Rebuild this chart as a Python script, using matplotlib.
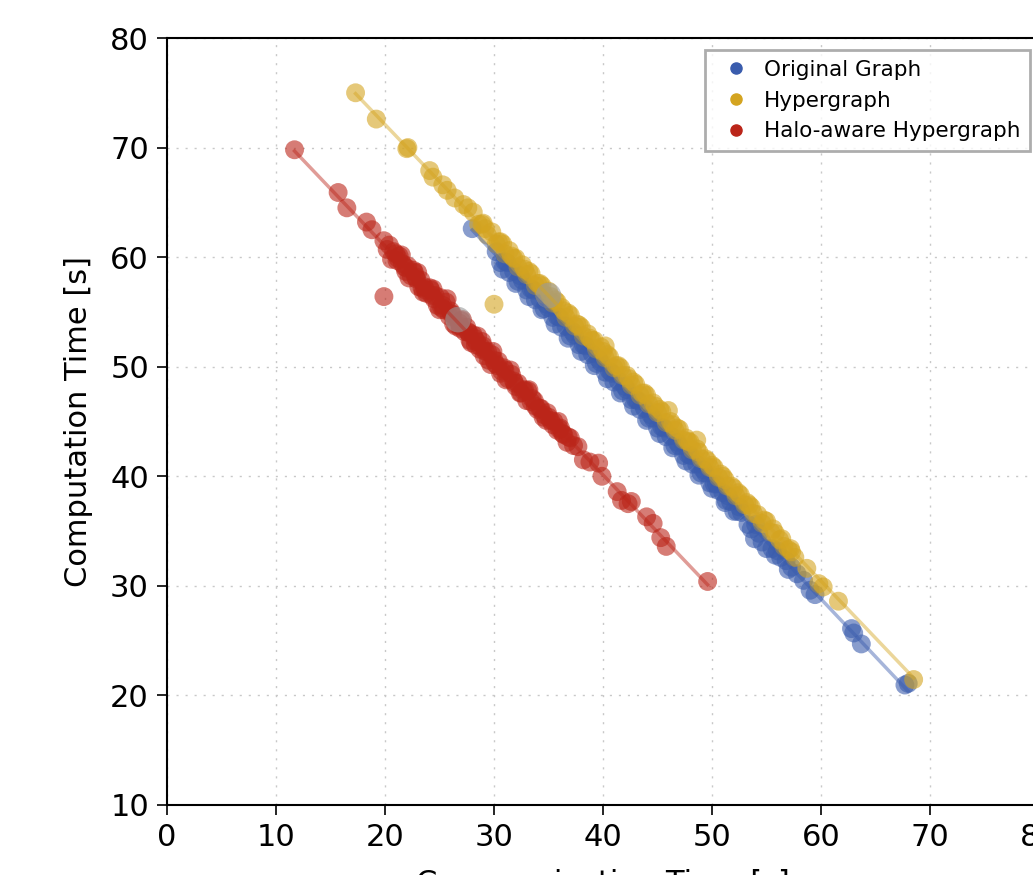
import numpy as np
import matplotlib
matplotlib.use("Agg")
import matplotlib.pyplot as plt
from matplotlib.lines import Line2D

labels = ["Original Graph", "Hypergraph", "Halo-aware Hypergraph"]
colors = ["#3a5cad", "#d4a420", "#bb2519"]

# Original Graph
orig_x = [28.0, 30.2, 30.6, 31.0, 31.4, 31.8, 32.2, 32.6, 33.0, 33.4, 33.8, 34.2, 34.6,
          35.0, 35.4, 35.8, 36.2, 36.6, 37.0, 37.4, 37.8, 38.2, 38.6, 39.0, 39.4, 39.8,
          40.2, 40.6, 41.0, 41.4, 41.8, 42.2, 42.6, 43.0, 43.4, 43.8, 44.2, 44.6, 45.0,
          45.4, 45.8, 46.2, 46.6, 47.0, 47.4, 47.8, 48.2, 48.6, 49.0, 49.4, 49.8, 50.2,
          50.6, 51.0, 51.3, 51.7, 52.3, 52.7, 53.3, 53.6, 53.9, 54.3, 55.0, 55.5, 55.8,
          56.3, 56.8, 57.3, 57.8, 58.4, 59.0, 59.45, 62.8, 63.0, 63.7, 67.7, 68.0,
          31.2, 32.4, 33.6, 34.8, 36.0, 37.2, 38.4, 39.6, 40.8, 42.0, 43.2, 44.4, 45.6,
          46.8, 48.0, 49.2, 50.4, 51.5, 52.5, 54.0, 56.0,
          30.8, 32.0, 33.2, 34.4, 35.6, 36.8, 38.0, 39.2, 40.4, 41.6, 42.8, 44.0, 45.2,
          46.4, 47.6, 48.8, 50.0, 51.2, 52.0, 54.6, 57.0]
orig_y = [62.6, 60.5, 59.5, 59.6, 58.6, 58.7, 57.8, 57.9, 57.0, 57.1, 56.1, 56.2, 55.3,
          55.4, 54.5, 54.6, 53.6, 53.7, 52.8, 52.9, 52.0, 52.0, 51.1, 51.2, 50.3, 50.4,
          49.5, 49.6, 48.6, 48.7, 47.8, 47.9, 47.0, 47.0, 46.1, 46.2, 45.3, 45.3, 44.4,
          44.5, 43.6, 43.7, 42.8, 42.8, 41.9, 42.0, 41.1, 41.1, 40.3, 40.3, 39.4, 39.3,
          38.7, 38.5, 37.8, 37.7, 36.8, 36.7, 35.6, 35.2, 34.3, 34.8, 33.4, 33.4, 32.8,
          32.6, 32.3, 31.7, 31.1, 30.5, 29.6, 29.2, 26.1, 25.7, 24.7, 20.95, 21.1,
          59.5, 58.3, 57.0, 55.7, 54.5, 53.2, 51.9, 50.7, 49.4, 48.2, 46.9, 45.6, 44.4,
          43.1, 41.9, 40.6, 39.3, 38.2, 37.2, 35.6, 33.2,
          58.9, 57.6, 56.4, 55.2, 53.9, 52.6, 51.4, 50.1, 48.9, 47.6, 46.4, 45.1, 43.9,
          42.6, 41.4, 40.1, 38.9, 37.6, 36.8, 34.0, 31.5]

# Hypergraph
hyper_x = [17.3, 19.2, 22.0, 22.1, 24.1, 24.4, 25.3, 25.7, 26.4, 27.2, 27.6, 28.1, 30.0,
           28.6, 29.0, 29.4, 29.8, 30.2, 30.6, 31.0, 31.4, 31.8, 32.2, 32.6, 33.0, 33.4,
           33.8, 34.2, 34.6, 35.0, 35.4, 35.8, 36.2, 36.6, 37.0, 37.4, 37.8, 38.2, 38.6,
           39.0, 39.4, 39.8, 40.2, 40.6, 41.0, 41.4, 41.8, 42.2, 42.6, 43.0, 43.4, 43.8,
           44.2, 44.6, 45.0, 45.4, 45.8, 46.2, 46.6, 47.0, 47.4, 47.8, 48.2, 48.6, 49.0,
           49.4, 49.8, 50.2, 50.6, 51.0, 51.4, 51.8, 52.2, 52.6, 53.0, 53.4, 53.8, 54.2,
           54.6, 55.0, 55.4, 55.8, 56.2, 56.6, 57.0, 57.3, 57.6, 46.0, 48.6, 40.2,
           58.7, 59.8, 60.2, 61.6, 68.5,
           29.2, 30.4, 31.6, 32.8, 34.0, 35.2, 36.4, 37.6, 38.8, 40.0, 41.2, 42.4, 43.6,
           44.8, 46.4, 47.6, 48.8, 50.0, 51.2, 52.4, 53.6, 54.8, 56.4,
           28.9, 30.8, 32.0, 33.2, 34.4, 35.6, 36.8, 38.0, 39.2, 40.4, 41.6, 42.8, 44.0,
           45.2, 46.8, 48.0, 49.6, 50.8, 52.0, 53.2, 55.6, 57.2]
hyper_y = [75.0, 72.6, 69.9, 70.0, 67.9, 67.3, 66.6, 66.1, 65.4, 64.8, 64.5, 64.1, 55.7,
           63.0, 63.1, 62.0, 62.3, 61.2, 61.4, 60.3, 60.6, 59.9, 59.1, 59.3, 58.4, 58.5,
           57.4, 57.6, 56.6, 56.9, 55.8, 55.9, 55.4, 54.5, 54.7, 53.7, 53.8, 52.8, 53.0,
           52.4, 51.6, 51.8, 50.8, 50.9, 49.9, 50.1, 49.2, 49.2, 48.3, 48.4, 47.4, 47.6,
           46.6, 46.7, 45.8, 45.9, 44.9, 45.0, 44.2, 44.3, 43.3, 43.2, 42.4, 42.5, 41.6,
           41.6, 40.8, 40.8, 39.9, 40.0, 39.1, 39.1, 38.2, 38.3, 37.4, 37.4, 36.6, 36.5,
           35.7, 35.9, 34.9, 34.8, 34.2, 33.6, 33.3, 33.1, 32.6, 46.0, 43.3, 51.9,
           31.6, 30.2, 29.9, 28.6, 21.45,
           62.6, 61.4, 60.1, 58.9, 57.6, 56.4, 55.1, 53.9, 52.6, 51.4, 50.1, 48.9, 47.6,
           46.4, 44.7, 43.5, 42.2, 41.0, 39.7, 38.5, 37.2, 36.0, 34.3,
           63.0, 61.2, 59.9, 58.7, 57.4, 56.1, 54.9, 53.6, 52.4, 51.1, 49.9, 48.6, 47.4,
           46.1, 44.4, 43.1, 41.4, 40.2, 38.9, 37.6, 35.2, 33.4]

# Halo-aware Hypergraph
halo_x = [11.7, 15.7, 16.5, 18.3, 18.8, 19.9, 19.9,
          20.4, 20.8, 21.1, 21.3, 21.6, 21.9, 22.1, 22.4, 22.6, 22.9, 23.1, 23.3, 23.6,
          23.8, 24.1, 24.3, 24.6, 24.8, 25.1, 25.4, 25.7, 25.9, 26.2, 26.5, 26.8, 27.0,
          27.3, 27.6, 27.8, 28.1, 28.4, 28.7, 28.9, 29.2, 29.5, 29.8, 30.1, 30.4, 30.7,
          31.0, 31.3, 31.6, 31.9, 32.2, 32.5, 32.8, 33.1, 33.4, 33.7, 34.0, 34.3, 34.6,
          34.9, 35.2, 35.5, 35.8, 36.1, 36.4, 36.7, 37.0, 37.3, 37.7,
          20.6, 21.5, 22.2, 23.0, 23.5, 24.4, 25.0, 25.6, 26.3, 27.1, 27.9, 28.5, 29.1,
          29.9, 30.6, 31.5, 32.4, 33.2, 34.8, 35.9,
          21.0, 21.8, 22.7, 23.4, 24.2, 25.2, 26.0, 26.9, 27.5, 28.3, 29.0, 29.7, 30.3,
          31.1, 32.0, 33.0, 33.8, 34.5, 35.4, 36.3,
          20.2, 21.2, 22.0, 22.8, 23.7, 24.5, 25.3, 26.1, 26.9, 27.7, 28.2, 28.8, 29.4,
          30.0, 30.9, 31.8, 32.7, 33.5, 34.2, 35.0, 36.0, 36.8,
          38.2, 38.8, 39.6, 39.9, 41.3, 41.7, 42.3, 42.6, 44.0, 44.6, 45.3, 45.8, 49.6]
halo_y = [69.8, 65.9, 64.5, 63.2, 62.5, 61.5, 56.4,
          61.1, 60.5, 59.7, 60.1, 59.4, 58.7, 59.2, 58.3, 58.8, 58.0, 57.3, 57.9, 57.3,
          56.7, 57.2, 56.5, 56.5, 55.6, 56.3, 55.2, 56.2, 54.6, 54.8, 53.7, 54.0, 54.2,
          53.2, 53.2, 52.4, 52.9, 52.3, 51.6, 52.3, 51.4, 50.6, 51.1, 50.3, 50.5, 49.6,
          49.7, 48.9, 49.3, 48.5, 48.5, 47.6, 47.9, 47.8, 46.8, 46.9, 46.1, 46.2, 45.6,
          45.8, 45.1, 45.0, 44.2, 44.4, 43.8, 43.1, 43.5, 42.8, 42.7,
          59.8, 60.2, 58.1, 58.6, 56.8, 57.1, 55.2, 55.9, 53.9, 54.3, 52.2, 52.8, 51.0,
          51.4, 49.4, 49.7, 47.6, 47.9, 45.1, 45.0,
          60.3, 59.1, 58.6, 57.2, 57.0, 55.4, 55.1, 53.5, 53.6, 52.0, 51.9, 50.2, 50.1,
          48.8, 48.2, 46.9, 46.4, 45.4, 44.7, 43.9,
          60.7, 59.9, 59.0, 58.2, 57.0, 56.2, 55.6, 54.8, 53.7, 53.1, 52.6, 51.8, 51.4,
          50.6, 49.9, 48.7, 47.8, 47.1, 46.2, 45.4, 44.3, 43.6,
          41.5, 41.3, 41.2, 40.0, 38.6, 37.8, 37.5, 37.7, 36.3, 35.7, 34.4, 33.6, 30.4]

# larger grey markers
grey_x = [26.7, 35.0]
grey_y = [54.3, 56.5]

xticks = [0, 10, 20, 30, 40, 50, 60, 70, 80]
yticks = [10, 20, 30, 40, 50, 60, 70, 80]

fig = plt.figure(figsize=(10.33, 8.75), dpi=100)
ax = fig.add_axes([167 / 1033, 1 - 805 / 875, 872 / 1033, 767 / 875])

series = [(orig_x, orig_y), (hyper_x, hyper_y), (halo_x, halo_y)]
for (xs, ys), c in zip(series, colors):
    ax.scatter(xs, ys, s=185, color=c, alpha=0.6, edgecolors="none", zorder=2)

ax.scatter(grey_x, grey_y, s=340, color="#9a9a9a", alpha=0.6, edgecolors="none", zorder=3)

# fitted lines
for (xs, ys), c in zip(series, colors):
    xs = np.array(xs)
    ys = np.array(ys)
    k, b = np.polyfit(xs, ys, 1)
    xl = np.array([xs.min(), xs.max()])
    ax.plot(xl, k * xl + b, color=c, alpha=0.45, lw=2.5, zorder=4)

ax.set_xlim(0, 80)
ax.set_ylim(10, 80)
ax.set_xticks(xticks)
ax.set_yticks(yticks)
ax.tick_params(labelsize=22, direction="out", length=7, width=1.2, top=False, right=False, pad=6)
ax.grid(True, linestyle=(0, (1.5, 5)), color="#c8c8c8", lw=1)
ax.set_axisbelow(True)
for sp in ax.spines.values():
    sp.set_linewidth(1.5)

ax.set_ylabel("Computation Time [s]", fontsize=22, labelpad=12)
ax.set_xlabel("Communication Time [s]", fontsize=22, labelpad=12)

handles = [Line2D([], [], marker="o", ls="none", color=c, markersize=8) for c in colors]
leg = ax.legend(handles, labels, loc="upper right", bbox_to_anchor=(0.99, 0.984),
                borderaxespad=0, fontsize=15.5, frameon=True, fancybox=False,
                handletextpad=0.3, labelspacing=0.5, borderpad=0.45)
leg.get_frame().set_edgecolor("#999999")
leg.get_frame().set_linewidth(2)

fig.savefig("out.png", dpi=100)
